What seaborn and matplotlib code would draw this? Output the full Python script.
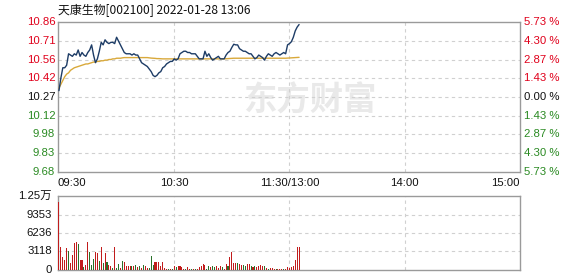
import matplotlib
matplotlib.use("Agg")
import matplotlib.pyplot as plt
import seaborn as sns
import pandas as pd

title = "天康生物[002100] 2022-01-28 13:06"
preclose = 10.27

price = [10.32, 10.42, 10.50, 10.50, 10.52, 10.61, 10.60, 10.59, 10.61, 10.60,
         10.64, 10.59, 10.62, 10.60, 10.59, 10.62, 10.64, 10.68, 10.60, 10.54,
         10.57, 10.63, 10.70, 10.68, 10.72, 10.70, 10.69, 10.70, 10.70, 10.69,
         10.74, 10.71, 10.68, 10.65, 10.62, 10.61, 10.61, 10.61, 10.60, 10.61,
         10.60, 10.60, 10.57, 10.54, 10.53, 10.52, 10.51, 10.49, 10.47, 10.44,
         10.43, 10.44, 10.46, 10.47, 10.50, 10.51, 10.53, 10.54, 10.55, 10.55,
         10.57, 10.56, 10.57, 10.61, 10.62, 10.63, 10.63, 10.62, 10.62, 10.61,
         10.61, 10.61, 10.59, 10.57, 10.57, 10.57, 10.63, 10.59, 10.61, 10.58,
         10.56, 10.57, 10.58, 10.59, 10.57, 10.57, 10.57, 10.60, 10.62, 10.63,
         10.66, 10.685, 10.68, 10.68, 10.65, 10.64, 10.63, 10.63, 10.62, 10.61,
         10.61, 10.59, 10.57, 10.58, 10.60, 10.59, 10.58, 10.56, 10.59, 10.61,
         10.60, 10.59, 10.61, 10.62, 10.61, 10.60, 10.61, 10.62, 10.61, 10.68,
         10.69, 10.705, 10.74, 10.79, 10.82, 10.84]

avg_price = [10.34, 10.37, 10.40, 10.43, 10.45, 10.46, 10.48, 10.49, 10.50, 10.505,
             10.51, 10.515, 10.52, 10.525, 10.53, 10.53, 10.535, 10.54, 10.545, 10.545,
             10.55, 10.55, 10.555, 10.555, 10.56, 10.56, 10.565, 10.565, 10.57, 10.57,
             10.575, 10.575, 10.575, 10.578, 10.58, 10.58, 10.58, 10.58, 10.58, 10.58,
             10.58, 10.58, 10.58, 10.58, 10.58, 10.58, 10.58, 10.578, 10.576, 10.575,
             10.574, 10.572, 10.572, 10.571, 10.57, 10.57, 10.57, 10.57, 10.57, 10.57,
             10.57, 10.57, 10.57, 10.57, 10.57, 10.57, 10.57, 10.57, 10.57, 10.57,
             10.57, 10.57, 10.57, 10.57, 10.57, 10.57, 10.57, 10.57, 10.57, 10.57,
             10.57, 10.57, 10.57, 10.57, 10.57, 10.57, 10.57, 10.571, 10.572, 10.573,
             10.574, 10.575, 10.575, 10.575, 10.575, 10.575, 10.575, 10.575, 10.575, 10.575,
             10.575, 10.575, 10.575, 10.575, 10.575, 10.575, 10.575, 10.575, 10.575, 10.575,
             10.575, 10.575, 10.575, 10.575, 10.575, 10.575, 10.575, 10.575, 10.575, 10.576,
             10.577, 10.578, 10.579, 10.58, 10.581, 10.582]

volume = [11500, 3900, 2240, 1700, 3650, 3250, 1230, 2520, 4600, 4760,
          4400, 1700, 1750, 500, 780, 4760, 3080, 780, 1900, 3000,
          2800, 1500, 3900, 1100, 2800, 1400, 800, 700, 300, 3800,
          400, 1000, 400, 1500, 1300, 600, 600, 600, 700, 600,
          800, 560, 670, 300, 800, 670, 300, 400, 2360, 800,
          1400, 1400, 1400, 670, 1400, 300, 110, 110, 200, 150,
          670, 450, 670, 600, 450, 225, 225, 450, 110, 225,
          225, 110, 225, 450, 670, 1000, 800, 225, 670, 450,
          670, 450, 670, 300, 670, 450, 200, 1000, 670, 2130,
          3030, 1240, 1240, 1240, 1000, 800, 800, 670, 1000, 1000,
          670, 450, 670, 450, 670, 840, 670, 670, 300, 110,
          300, 300, 110, 200, 110, 110, 110, 225, 110, 450,
          300, 450, 670, 1700, 3800, 3800]

direction = ["r", "r", "r", "r", "r", "g", "r", "r", "r", "r",
             "g", "r", "r", "g", "r", "r", "g", "g", "g", "r",
             "r", "g", "r", "g", "r", "g", "r", "r", "g", "r",
             "g", "g", "r", "g", "r", "r", "r", "r", "g", "r",
             "g", "r", "g", "r", "g", "r", "r", "g", "g", "g",
             "r", "r", "r", "r", "r", "r", "r", "g", "r", "g",
             "r", "g", "r", "r", "r", "r", "g", "r", "r", "g",
             "r", "g", "r", "r", "r", "r", "r", "g", "g", "r",
             "g", "g", "r", "r", "r", "g", "r", "r", "g", "r",
             "r", "r", "r", "g", "r", "r", "g", "g", "r", "r",
             "g", "r", "g", "r", "r", "r", "r", "g", "r", "g",
             "r", "r", "r", "g", "r", "r", "r", "g", "r", "r",
             "r", "r", "r", "r", "r", "r"]

price_ticks = [10.86, 10.71, 10.56, 10.42, 10.27, 10.12, 9.98, 9.83, 9.68]
pct_labels = ["5.73 %", "4.30 %", "2.87 %", "1.43 %", "0.00 %", "1.43 %", "2.87 %", "4.30 %", "5.73 %"]
vol_ticks = [0, 3118, 6236, 9353, 12471]
vol_labels = ["0", "3118", "6236", "9353", "1.25万"]
time_ticks = [0, 60, 120, 180, 240]
time_labels = ["09:30", "10:30", "11:30/13:00", "14:00", "15:00"]

RED = "#e0001b"
GREEN = "#2a8a22"
BLACK = "#111111"
GRID = "#d0d0d0"
FRAME = "#9a9a9a"

sns.set_theme(style="white")
plt.rcParams["font.family"] = ["Liberation Sans", "Noto Sans CJK SC", "DejaVu Sans"]

df = pd.DataFrame({"minute": list(range(len(price))), "price": price, "avg": avg_price})
dv = pd.DataFrame({"minute": list(range(len(volume))), "volume": volume, "dir": direction})

W, H = 578, 276
fig = plt.figure(figsize=(W / 100, H / 100), dpi=100)
fig.patch.set_facecolor("white")

ax = fig.add_axes([58 / W, (H - 172) / H, 462 / W, 150 / H])
axv = fig.add_axes([58 / W, (H - 270) / H, 462 / W, 74 / H])

# watermark
ax.text(0.545, 0.475, "东方财富", transform=ax.transAxes, fontsize=24, fontweight="bold",
        color="#e9e9e9", ha="center", va="center", style="italic",
        family=["Noto Sans CJK SC", "DejaVu Sans"], zorder=0)

# gridlines
for p in price_ticks[1:-1]:
    ax.axhline(p, color=GRID, lw=0.8, ls=(0, (3, 3)), zorder=1)
for t in time_ticks[1:-1]:
    ax.axvline(t, color=GRID, lw=0.8, ls=(0, (3, 3)), zorder=1)
    axv.axvline(t, color=GRID, lw=0.8, ls=(0, (3, 3)), zorder=1)
for v in vol_ticks[1:-1]:
    axv.axhline(v, color=GRID, lw=0.8, ls=(0, (3, 3)), zorder=1)

sns.lineplot(data=df, x="minute", y="avg", ax=ax, color="#d9a93b", lw=1.0, zorder=3)
sns.lineplot(data=df, x="minute", y="price", ax=ax, color="#1d3c66", lw=1.0, zorder=4)

sns.barplot(data=dv, x="minute", y="volume", hue="dir", palette={"r": "#dd0000", "g": "#1e7d1e"},
            width=0.55, dodge=False, errorbar=None, legend=False, ax=axv, zorder=3,
            linewidth=0, antialiased=False)

for a in (ax, axv):
    a.set_xlim(-0.5, 240)
    a.set_xlabel("")
    a.set_ylabel("")
    a.set_xticks([])
    a.set_yticks([])
    for s in a.spines.values():
        s.set_color(FRAME)
        s.set_linewidth(1.0)
    a.set_facecolor("white")

ax.set_ylim(9.68, 10.86)
axv.set_ylim(0, 12471)

fs = 8.2
tr = ax.get_yaxis_transform()
for i, (p, lab) in enumerate(zip(price_ticks, pct_labels)):
    col = RED if p > preclose else (BLACK if p == preclose else GREEN)
    ax.text(-0.006, p, f"{p:.2f}", transform=tr, ha="right", va="center", fontsize=fs, color=col)
    ax.text(1.009, p, lab, transform=tr, ha="left", va="center", fontsize=fs, color=col)

trv = axv.get_yaxis_transform()
for v, lab in zip(vol_ticks, vol_labels):
    axv.text(-0.013, v, lab, transform=trv, ha="right", va="center", fontsize=fs, color=BLACK,
             family=["Liberation Sans", "Noto Sans CJK SC"])

trx = ax.get_xaxis_transform()
aligns = ["left", "center", "center", "center", "right"]
for t, lab, al in zip(time_ticks, time_labels, aligns):
    x = -0.5 if al == "left" else t
    ax.text(x, -0.07, lab, transform=trx, ha=al, va="center", fontsize=fs, color=BLACK)

fig.text(58 / W, 1 - 10 / H, title, ha="left", va="center", fontsize=8.6, color=BLACK,
         family=["Noto Sans CJK SC", "DejaVu Sans"])

fig.savefig("out.png", dpi=100, facecolor="white")
